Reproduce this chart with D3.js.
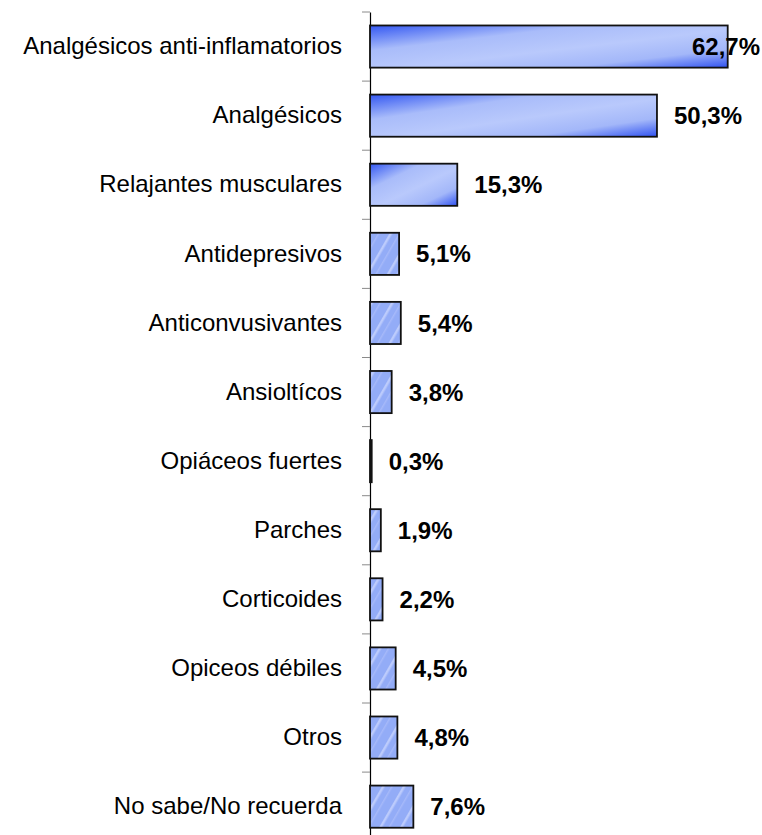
<!DOCTYPE html>
<html>
<head>
<meta charset="utf-8">
<script src="https://cdn.jsdelivr.net/npm/d3@7"></script>
<style>
  body { margin: 0; background: #fff; }
  svg { display: block; }
</style>
</head>
<body>
<div id="chart"></div>
<script>
// categories, top to bottom
const categories = [
  "Analgésicos anti-inflamatorios",
  "Analgésicos",
  "Relajantes musculares",
  "Antidepresivos",
  "Anticonvusivantes",
  "Ansioltícos",
  "Opiáceos fuertes",
  "Parches",
  "Corticoides",
  "Opiceos débiles",
  "Otros",
  "No sabe/No recuerda"
];
const values = [62.7, 50.3, 15.3, 5.1, 5.4, 3.8, 0.3, 1.9, 2.2, 4.5, 4.8, 7.6];
const valueLabels = ["62,7%", "50,3%", "15,3%", "5,1%", "5,4%", "3,8%", "0,3%", "1,9%", "2,2%", "4,5%", "4,8%", "7,6%"];

const width = 762, height = 835;
const margin = {top: 12, left: 370};

const svg = d3.select("#chart")
  .append("svg")
    .attr("width", width)
    .attr("height", height);

// fills
const defs = svg.append("defs");
const grad = defs.append("linearGradient")
    .attr("id", "barGrad")
    .attr("x1", 0).attr("y1", 0)
    .attr("x2", 1).attr("y2", 1);
grad.append("stop").attr("offset", "0%").attr("stop-color", "#3357f2");
grad.append("stop").attr("offset", "30%").attr("stop-color", "#a9bcfa");
grad.append("stop").attr("offset", "55%").attr("stop-color", "#b9c9fc");
grad.append("stop").attr("offset", "78%").attr("stop-color", "#a3b7f9");
grad.append("stop").attr("offset", "100%").attr("stop-color", "#3052f1");

// textured fill for the short bars
const pat = defs.append("pattern")
    .attr("id", "barTex")
    .attr("patternUnits", "userSpaceOnUse")
    .attr("width", 18).attr("height", 18)
    .attr("patternTransform", "rotate(30)");
pat.append("rect").attr("width", 18).attr("height", 18).attr("fill", "#93acf7");
pat.append("rect").attr("x", 4).attr("width", 2.5).attr("height", 18).attr("fill", "#bccbfc");
pat.append("rect").attr("x", 12).attr("width", 1.5).attr("height", 18).attr("fill", "#a6b9f9");

const x = d3.scaleLinear()
  .domain([0, 70])
  .range([margin.left, margin.left + 70 * 5.705]);

const y = d3.scaleBand()
  .domain(categories)
  .range([margin.top, margin.top + categories.length * 69.1])
  .paddingInner(0.39)
  .paddingOuter(0.195);

// category axis
const yAxis = svg.append("g")
  .attr("transform", `translate(${margin.left},0)`)
  .call(d3.axisLeft(y).tickSize(0).tickPadding(28));
yAxis.select(".domain").attr("stroke", "#000").attr("stroke-width", 1.2);
yAxis.selectAll("text")
  .attr("font-family", "'Liberation Sans', Arial, sans-serif")
  .attr("font-size", 24)
  .attr("fill", "#000");

// tick marks between categories
const tickPos = d3.range(categories.length + 1).map(i => margin.top + i * 69.1);
svg.append("g").selectAll("line")
  .data(tickPos)
  .join("line")
    .attr("x1", margin.left - 8)
    .attr("x2", margin.left)
    .attr("y1", d => d)
    .attr("y2", d => d)
    .attr("stroke", "#8a8a8a")
    .attr("stroke-width", 1);

const rows = categories.map((c, i) => ({cat: c, value: values[i], label: valueLabels[i]}));

// bars
svg.append("g").selectAll("rect")
  .data(rows)
  .join("rect")
    .attr("x", x(0))
    .attr("y", d => y(d.cat))
    .attr("width", d => x(d.value) - x(0))
    .attr("height", y.bandwidth())
    .attr("fill", d => (x(d.value) - x(0)) > 60 ? "url(#barGrad)" : "url(#barTex)")
    .attr("stroke", "#111")
    .attr("stroke-width", 1.8);

// value labels
svg.append("g").selectAll("text")
  .data(rows)
  .join("text")
    .attr("x", d => x(d.value) + 17)
    .attr("y", d => y(d.cat) + y.bandwidth() / 2)
    .attr("dy", "0.36em")
    .attr("font-family", "'Liberation Sans', Arial, sans-serif")
    .attr("font-size", 24)
    .attr("font-weight", "bold")
    .attr("fill", "#000")
    .text(d => d.label)
    .each(function(d) {
      const w = this.getComputedTextLength();
      if (x(d.value) + 17 + w > width - 2) {
        d3.select(this).attr("x", width - 2).attr("text-anchor", "end");
      }
    });
</script>
</body>
</html>
